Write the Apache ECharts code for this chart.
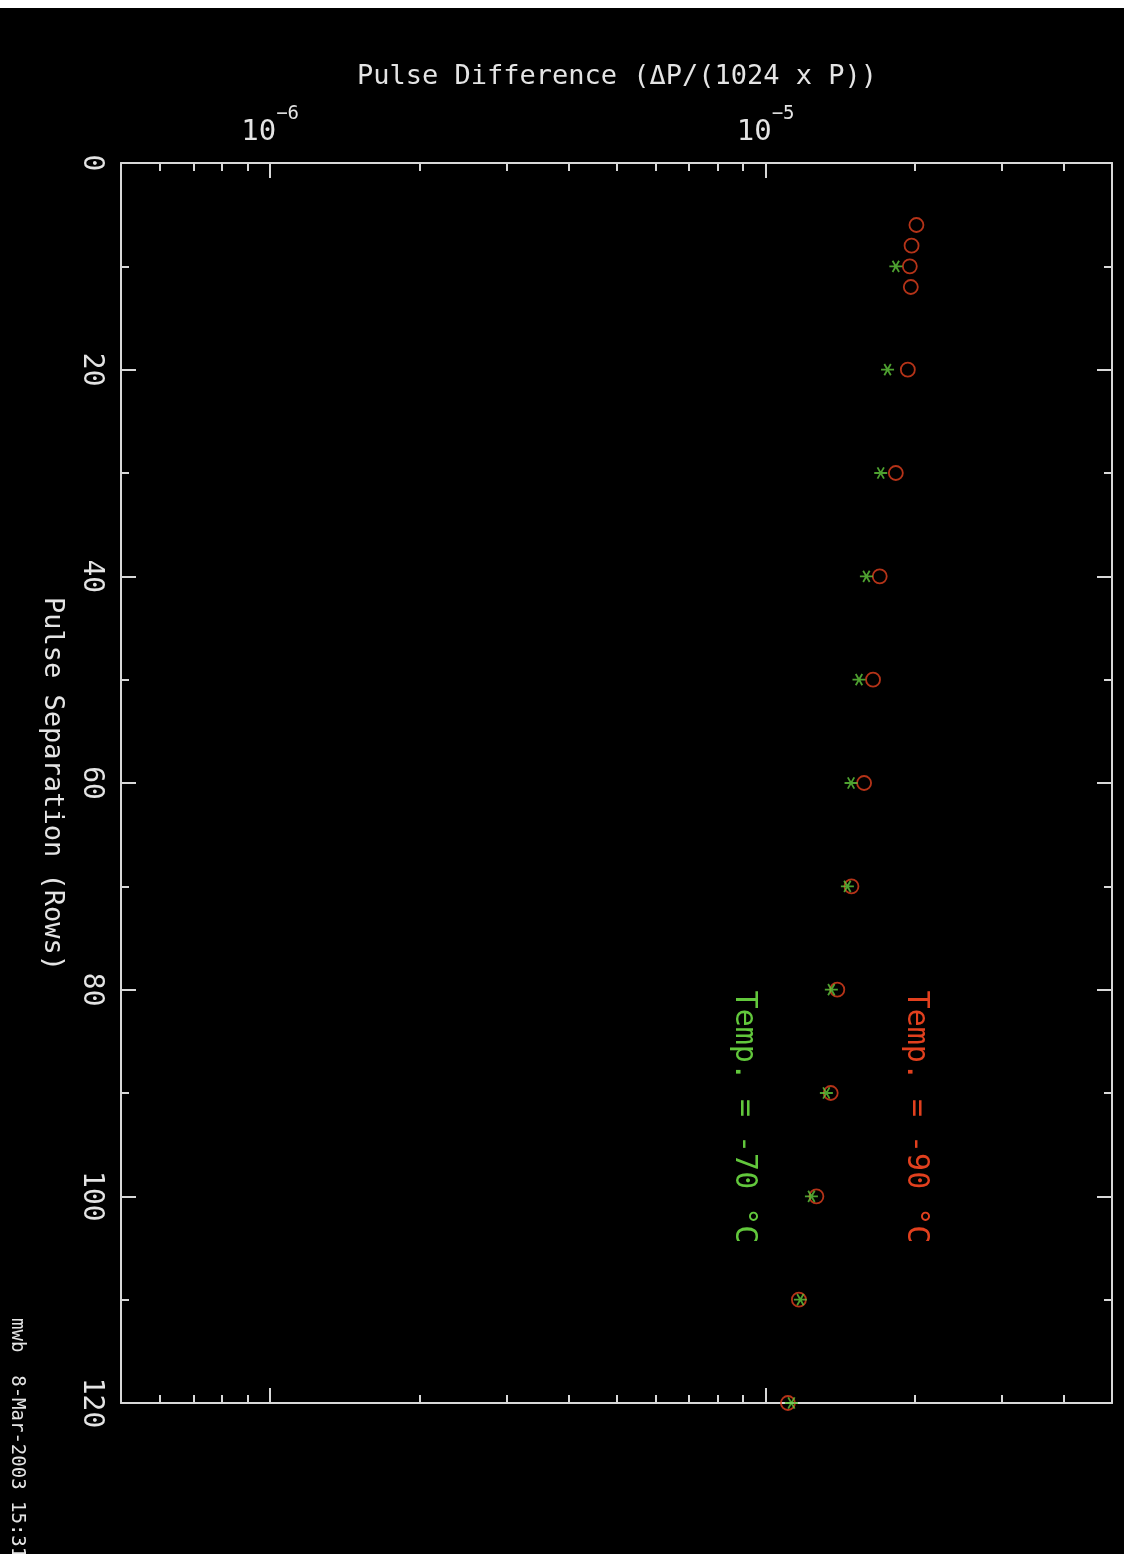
<!DOCTYPE html>
<html><head><meta charset="utf-8">
<script src="https://cdn.jsdelivr.net/npm/echarts@6/dist/echarts.min.js"></script>
<style>html,body{margin:0;padding:0;background:#fff;} #c{position:absolute;left:0;top:8px;width:1124px;height:1546px;background:#000;}</style>
</head><body><div id="c"></div>
<script>
const FONT = "'DejaVu Sans Mono', monospace";
const TXT = '#e4e4e4';
const RED = '#e2401e';
const GREEN = '#62c83c';

// -90 °C series (red circles)
const redRows = [6, 8, 10, 12, 20, 30, 40, 50, 60, 70, 80, 90, 100, 110, 120];
const redVals = [2.015e-5, 1.970e-5, 1.954e-5, 1.963e-5, 1.936e-5, 1.831e-5, 1.699e-5, 1.647e-5, 1.580e-5, 1.490e-5, 1.395e-5, 1.353e-5, 1.266e-5, 1.167e-5, 1.109e-5];
// -70 °C series (green asterisks)
const greenRows = [10, 20, 30, 40, 50, 60, 70, 80, 90, 100, 110, 120];
const greenVals = [1.831e-5, 1.762e-5, 1.707e-5, 1.597e-5, 1.543e-5, 1.487e-5, 1.462e-5, 1.357e-5, 1.326e-5, 1.237e-5, 1.175e-5, 1.127e-5];

// tick values
const xMajorTicks = [1e-6, 1e-5];
const xMinorTicks = [6e-7, 7e-7, 8e-7, 9e-7, 2e-6, 3e-6, 4e-6, 5e-6, 6e-6, 7e-6, 8e-6, 9e-6, 2e-5, 3e-5, 4e-5];
const xMin = 5e-7, xMax = 5e-5;
const yMin = 0, yMax = 120, yStep = 20;

const chart = echarts.init(document.getElementById('c'), null, {renderer: 'canvas'});

function expLabel(v) {
  const e = (v < 0 && v > -20) ? Math.round(v) : Math.round(Math.log10(v));
  return '{b|10}{s|' + (e < 0 ? '\u2212' + (-e) : e) + '}';
}

const lineStyle = {color: '#d8d8d8', width: 2};
function xAxisDef(pos, major, withLine, withLabel) {
  return {
    type: 'log', logBase: 10, min: xMin, max: xMax, position: pos,
    axisLine: {show: withLine, lineStyle: lineStyle},
    axisTick: {show: true, inside: true, length: major ? 15 : 8, customValues: major ? xMajorTicks : xMinorTicks, lineStyle: lineStyle},
    minorTick: {show: false},
    splitLine: {show: false},
    axisLabel: withLabel ? {
      show: true, customValues: xMajorTicks, margin: 16,
      formatter: expLabel,
      rich: {
        b: {fontFamily: FONT, fontSize: 29, color: TXT, verticalAlign: 'bottom', lineHeight: 42},
        s: {fontFamily: FONT, fontSize: 19, color: TXT, verticalAlign: 'top', lineHeight: 42}
      }
    } : {show: false}
  };
}
function yAxisDef(pos, withLabel) {
  return {
    type: 'value', inverse: true, min: yMin, max: yMax, interval: yStep, position: pos,
    axisLine: {show: true, lineStyle: lineStyle},
    axisTick: {show: true, inside: true, length: 15, lineStyle: lineStyle},
    minorTick: {show: true, splitNumber: 2, length: 8, lineStyle: lineStyle},
    splitLine: {show: false},
    axisLabel: withLabel ? {show: true, rotate: -90, margin: 16, fontFamily: FONT, fontSize: 28, color: TXT} : {show: false}
  };
}

const asterisk = 'path://M0,5 L10,5 M2.5,0.67 L7.5,9.33 M7.5,0.67 L2.5,9.33';

const option = {
  backgroundColor: '#000',
  animation: false,
  grid: {left: 121, top: 155, right: 12, bottom: 151, containLabel: false},
  xAxis: [
    xAxisDef('top', true, true, true),
    xAxisDef('top', false, false, false),
    xAxisDef('bottom', true, true, false),
    xAxisDef('bottom', false, false, false)
  ],
  yAxis: [yAxisDef('left', true), yAxisDef('right', false)],
  series: [
    {
      type: 'scatter', xAxisIndex: 0, yAxisIndex: 0,
      data: redVals.map((v, i) => [v, redRows[i]]),
      symbol: 'circle', symbolSize: 14,
      itemStyle: {color: 'transparent', borderColor: RED, borderWidth: 1.8}
    },
    {
      type: 'scatter', xAxisIndex: 0, yAxisIndex: 0,
      data: greenVals.map((v, i) => [v, greenRows[i]]),
      symbol: asterisk, symbolSize: 13, symbolKeepAspect: true,
      itemStyle: {color: 'transparent', borderColor: GREEN, borderWidth: 1.8}
    }
  ],
  graphic: [
    {type: 'text', x: 617, y: 69, style: {text: 'Pulse Difference (\u0394P/(1024 x P))', fontFamily: FONT, fontSize: 27, fill: TXT, align: 'center', verticalAlign: 'middle'}},
    {type: 'text', x: 52, y: 776, rotation: -Math.PI / 2, style: {text: 'Pulse Separation (Rows)', fontFamily: FONT, fontSize: 27, fill: TXT, align: 'center', verticalAlign: 'middle'}},
    {type: 'text', x: 916, y: 1109, rotation: -Math.PI / 2, style: {text: 'Temp. = -90 \u00b0C', fontFamily: FONT, fontSize: 30, fill: RED, align: 'center', verticalAlign: 'middle'}},
    {type: 'text', x: 744, y: 1109, rotation: -Math.PI / 2, style: {text: 'Temp. = -70 \u00b0C', fontFamily: FONT, fontSize: 30, fill: GREEN, align: 'center', verticalAlign: 'middle'}},
    {type: 'text', x: 17, y: 1310, rotation: -Math.PI / 2, style: {text: 'mwb  8-Mar-2003 15:31', fontFamily: FONT, fontSize: 19, fill: TXT, align: 'left', verticalAlign: 'middle'}}
  ]
};
chart.setOption(option);
</script>
</body></html>
